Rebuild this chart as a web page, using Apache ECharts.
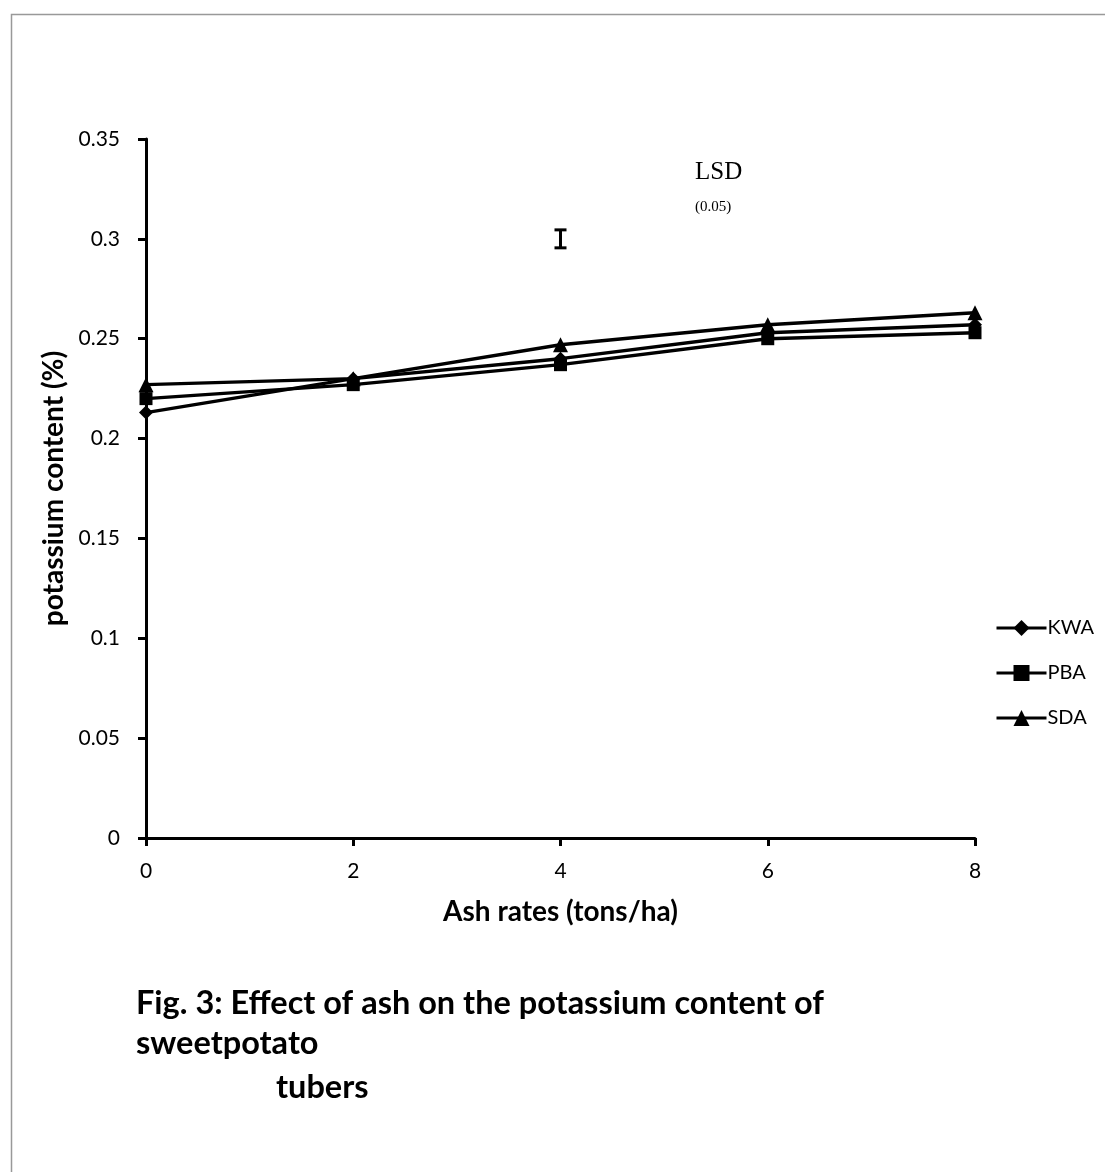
<!DOCTYPE html>
<html><head><meta charset="utf-8">
<script src="https://cdn.jsdelivr.net/npm/echarts@6/dist/echarts.min.js"></script>
<style>html,body{margin:0;padding:0;background:#fff}#c{width:1105px;height:1172px}</style>
</head><body><div id="c"></div>
<script>
const ashRates = [0, 2, 4, 6, 8];
const seriesNames = ['KWA', 'PBA', 'SDA'];
const kwa = [0.213, 0.230, 0.240, 0.253, 0.257];
const pba = [0.220, 0.227, 0.237, 0.250, 0.253];
const sda = [0.227, 0.230, 0.247, 0.257, 0.263];
const lsdX = 4;
const lsdLow = 0.2955;
const lsdHigh = 0.3045;
const yTicks = [0, 0.05, 0.1, 0.15, 0.2, 0.25, 0.3, 0.35];

const chart = echarts.init(document.getElementById('c'), null, {renderer: 'canvas'});
const font = 'Lato, "Open Sans", sans-serif';
const pair = arr => ashRates.map((x, i) => [x, arr[i]]);
const symbols = ['diamond', 'rect', 'triangle'];
const sizes = [14, 13, 15];
const vals = [kwa, pba, sda];

const lineSeries = seriesNames.map((n, i) => ({
  name: n, type: 'line', data: pair(vals[i]),
  symbol: symbols[i], symbolSize: sizes[i], showSymbol: true,
  lineStyle: {color: '#000', width: 3.4}, itemStyle: {color: '#000'},
  emphasis: {disabled: true}, animation: false, z: 3 + i
}));

chart.setOption({
  animation: false,
  backgroundColor: '#fff',
  grid: {left: 146, right: 130, top: 139, bottom: 334, containLabel: false},
  legend: {
    data: seriesNames, orient: 'vertical', left: 990, top: 613,
    itemWidth: 50, itemHeight: 20, itemGap: 25,
    lineStyle: {width: 3},
    textStyle: {fontFamily: font, fontSize: 20, color: '#000', padding: [0, 0, 0, -4]}
  },
  xAxis: {
    type: 'value', min: 0, max: 8, interval: 2,
    name: 'Ash rates (tons/ha)', nameLocation: 'middle', nameGap: 60,
    nameTextStyle: {fontFamily: font, fontSize: 28, fontWeight: 'bold', color: '#000'},
    axisLine: {lineStyle: {color: '#000', width: 3}},
    axisTick: {show: true, length: 8, lineStyle: {color: '#000', width: 3}},
    axisLabel: {fontFamily: font, fontSize: 21, color: '#000', margin: 23},
    splitLine: {show: false}
  },
  yAxis: {
    type: 'value', min: 0, max: 0.35, interval: 0.05,
    name: 'potassium content (%)', nameLocation: 'middle', nameGap: 77,
    nameTextStyle: {fontFamily: font, fontSize: 28, fontWeight: 'bold', color: '#000'},
    axisLine: {show: true, lineStyle: {color: '#000', width: 3}},
    axisTick: {show: true, length: 8, lineStyle: {color: '#000', width: 3}},
    axisLabel: {fontFamily: font, fontSize: 21, color: '#000', margin: 26,
      formatter: v => { const t = yTicks.find(k => Math.abs(k - v) < 1e-9); return String(t !== undefined ? t : +v.toFixed(2)); }},
    splitLine: {show: false}
  },
  graphic: [
    {type: 'rect', left: 9, top: 12, shape: {width: 1200, height: 1200}, style: {fill: 'none', stroke: '#999', lineWidth: 1.5}, z: -10, silent: true},
    {type: 'text', left: 695, top: 160, style: {text: 'LSD', font: '25px "Liberation Serif", serif', fill: '#000'}},
    {type: 'text', left: 695, top: 200, style: {text: '(0.05)', font: '15px "Liberation Serif", serif', fill: '#000'}},
    {type: 'text', left: 136, top: 987, style: {text: 'Fig. 3: Effect of ash on the potassium content of', font: 'bold 32.5px ' + font, fill: '#000'}},
    {type: 'text', left: 136, top: 1027, style: {text: 'sweetpotato', font: 'bold 32.5px ' + font, fill: '#000'}},
    {type: 'text', left: 276, top: 1071, style: {text: 'tubers', font: 'bold 32.5px ' + font, fill: '#000'}}
  ],
  series: lineSeries.concat([{
    type: 'custom', name: 'LSD', data: [[lsdX, lsdLow, lsdHigh]], animation: false, silent: true,
    renderItem: (params, api) => {
      const lo = api.coord([api.value(0), api.value(1)]);
      const hi = api.coord([api.value(0), api.value(2)]);
      const w = 6;
      const st = {stroke: '#000', lineWidth: 3};
      return {type: 'group', children: [
        {type: 'line', shape: {x1: lo[0], y1: lo[1], x2: hi[0], y2: hi[1]}, style: st},
        {type: 'line', shape: {x1: lo[0] - w, y1: lo[1], x2: lo[0] + w, y2: lo[1]}, style: st},
        {type: 'line', shape: {x1: hi[0] - w, y1: hi[1], x2: hi[0] + w, y2: hi[1]}, style: st}
      ]};
    }
  }])
});
</script></body></html>
